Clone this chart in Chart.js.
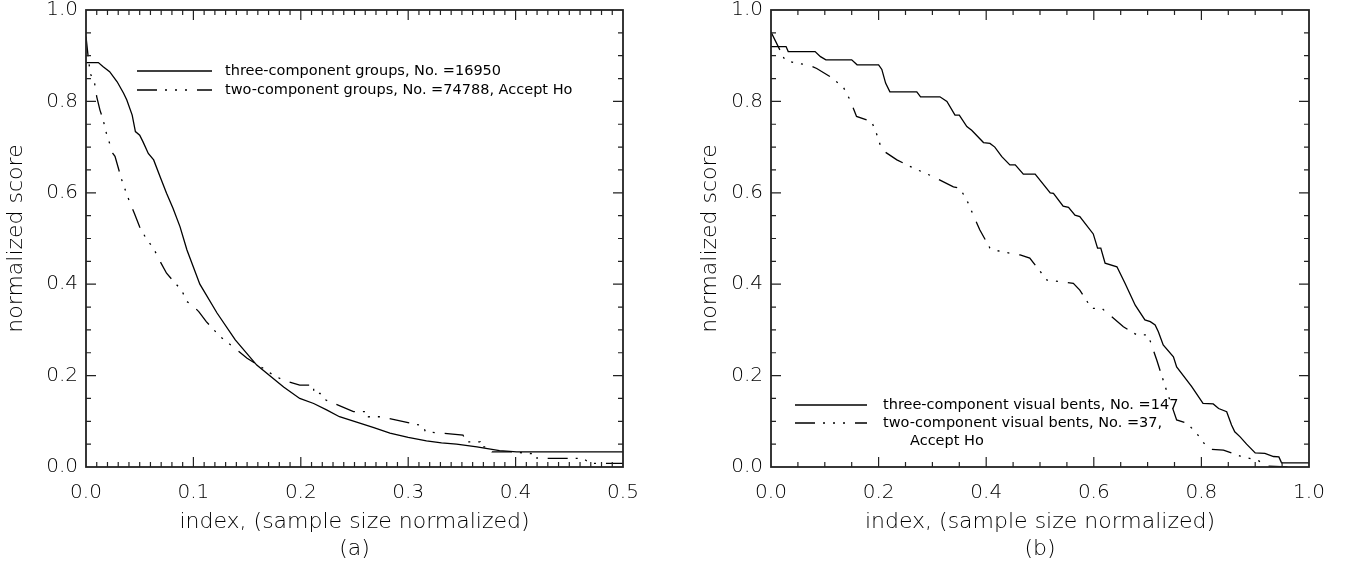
<!DOCTYPE html>
<html>
<head>
<meta charset="utf-8">
<script src="https://cdn.jsdelivr.net/npm/chart.js@4.4.1/dist/chart.umd.min.js"></script>
<style>
  body { margin: 0; background: #fff; }
  .panel { position: absolute; top: 0; width: 673px; height: 565px; }
  #panelA { left: 0; }
  #panelB { left: 673px; }
</style>
</head>
<body>
<div class="panel" id="panelA"><canvas id="chartA" width="673" height="565"></canvas></div>
<div class="panel" id="panelB"><canvas id="chartB" width="673" height="565"></canvas></div>
<script>
// panel (a): groups
const groupsThreeX = [0, 0.0115, 0.016, 0.022, 0.029, 0.035, 0.038, 0.043, 0.046, 0.050, 0.053, 0.058, 0.063, 0.069, 0.075, 0.081, 0.0875, 0.094, 0.106, 0.122, 0.139, 0.159, 0.184, 0.199, 0.212, 0.224, 0.236, 0.252, 0.268, 0.283, 0.300, 0.317, 0.331, 0.345, 0.364, 0.385, 0.401, 0.5];
const groupsThreeY = [0.885, 0.885, 0.876, 0.865, 0.843, 0.818, 0.803, 0.770, 0.734, 0.726, 0.712, 0.686, 0.672, 0.635, 0.599, 0.566, 0.526, 0.475, 0.40, 0.337, 0.278, 0.223, 0.175, 0.150, 0.139, 0.125, 0.11, 0.098, 0.086, 0.074, 0.065, 0.057, 0.053, 0.05, 0.044, 0.036, 0.033, 0.033];
const groupsTwoX = [0, 0.002, 0.004, 0.008, 0.010, 0.013, 0.016, 0.019, 0.022, 0.025, 0.027, 0.033, 0.039, 0.045, 0.050, 0.056, 0.063, 0.069, 0.075, 0.082, 0.089, 0.094, 0.099, 0.105, 0.112, 0.125, 0.137, 0.150, 0.165, 0.175, 0.184, 0.199, 0.212, 0.212, 0.218, 0.220, 0.249, 0.263, 0.263, 0.274, 0.314, 0.316, 0.351, 0.354, 0.367, 0.367, 0.376, 0.378, 0.398, 0.420, 0.420, 0.463, 0.469, 0.500];
const groupsTwoY = [0.942, 0.898, 0.861, 0.840, 0.810, 0.781, 0.759, 0.730, 0.708, 0.686, 0.680, 0.630, 0.590, 0.555, 0.525, 0.500, 0.478, 0.450, 0.424, 0.405, 0.387, 0.362, 0.354, 0.340, 0.318, 0.285, 0.263, 0.238, 0.216, 0.200, 0.190, 0.179, 0.179, 0.161, 0.161, 0.150, 0.121, 0.121, 0.110, 0.110, 0.090, 0.077, 0.070, 0.055, 0.055, 0.044, 0.044, 0.033, 0.033, 0.028, 0.019, 0.019, 0.008, 0.008];

// panel (b): visual bents
const bentsThreeX = [0, 0.028, 0.032, 0.082, 0.092, 0.102, 0.150, 0.160, 0.200, 0.206, 0.213, 0.221, 0.271, 0.278, 0.314, 0.327, 0.342, 0.350, 0.364, 0.373, 0.395, 0.407, 0.416, 0.429, 0.444, 0.454, 0.469, 0.491, 0.519, 0.525, 0.543, 0.553, 0.565, 0.574, 0.599, 0.607, 0.613, 0.621, 0.643, 0.658, 0.677, 0.695, 0.705, 0.714, 0.720, 0.729, 0.748, 0.754, 0.782, 0.803, 0.822, 0.832, 0.847, 0.856, 0.862, 0.872, 0.884, 0.900, 0.918, 0.934, 0.944, 0.949, 1.000];
const bentsThreeY = [0.920, 0.920, 0.909, 0.909, 0.898, 0.891, 0.891, 0.880, 0.880, 0.870, 0.840, 0.821, 0.821, 0.810, 0.810, 0.800, 0.770, 0.770, 0.745, 0.737, 0.710, 0.708, 0.700, 0.679, 0.661, 0.661, 0.641, 0.641, 0.600, 0.599, 0.571, 0.568, 0.551, 0.548, 0.510, 0.479, 0.479, 0.446, 0.438, 0.402, 0.354, 0.322, 0.318, 0.311, 0.296, 0.267, 0.241, 0.219, 0.176, 0.139, 0.138, 0.128, 0.121, 0.092, 0.077, 0.066, 0.050, 0.031, 0.030, 0.023, 0.022, 0.009, 0.009];
const bentsTwoX = [0, 0.026, 0.048, 0.069, 0.085, 0.110, 0.134, 0.147, 0.159, 0.187, 0.196, 0.206, 0.234, 0.265, 0.302, 0.339, 0.351, 0.364, 0.388, 0.407, 0.413, 0.444, 0.463, 0.481, 0.513, 0.562, 0.574, 0.596, 0.615, 0.655, 0.680, 0.701, 0.717, 0.735, 0.754, 0.773, 0.791, 0.813, 0.841, 0.872, 0.906, 0.921, 0.960];
const bentsTwoY = [0.952, 0.890, 0.883, 0.880, 0.872, 0.854, 0.832, 0.803, 0.767, 0.756, 0.730, 0.694, 0.672, 0.654, 0.635, 0.613, 0.610, 0.584, 0.519, 0.479, 0.475, 0.468, 0.464, 0.457, 0.409, 0.402, 0.387, 0.347, 0.347, 0.307, 0.289, 0.289, 0.234, 0.168, 0.103, 0.096, 0.074, 0.039, 0.037, 0.024, 0.014, 0.002, 0.000];

const groupsLabels = ['three-component groups, No. =16950', 'two-component groups, No. =74788, Accept Ho'];
const bentsLabels = ['three-component visual bents, No. =147', 'two-component visual bents, No. =37,', 'Accept Ho'];
const xTitle = 'index, (sample size normalized)';
const yTitle = 'normalized score';

const FONT = '"DejaVu Sans", sans-serif';
const DASH3DOT = [20, 8, 2, 8, 2, 8, 2, 10]; // idl linestyle 3

const toPoints = (xs, ys) => xs.map((x, i) => ({ x, y: ys[i] }));

// frame + inward ticks on all four sides, idl style
const frameTicks = {
  id: 'frameTicks',
  afterDatasetsDraw(chart, args, opts) {
    const { ctx, chartArea: a } = chart;
    const xs = chart.scales.x, ys = chart.scales.y;
    ctx.save();
    ctx.strokeStyle = '#222';
    ctx.lineWidth = 1.2;
    ctx.beginPath();
    const nx = Math.round((xs.max - xs.min) / opts.xMinor);
    const xEvery = Math.round(opts.xMajor / opts.xMinor);
    for (let i = 1; i < nx; i++) {
      const px = xs.getPixelForValue(xs.min + i * opts.xMinor);
      const len = i % xEvery === 0 ? 10 : 5;
      ctx.moveTo(px, a.bottom); ctx.lineTo(px, a.bottom - len);
      ctx.moveTo(px, a.top); ctx.lineTo(px, a.top + len);
    }
    const ny = Math.round((ys.max - ys.min) / opts.yMinor);
    const yEvery = Math.round(opts.yMajor / opts.yMinor);
    for (let i = 1; i < ny; i++) {
      const py = ys.getPixelForValue(ys.min + i * opts.yMinor);
      const len = i % yEvery === 0 ? 10 : 5;
      ctx.moveTo(a.left, py); ctx.lineTo(a.left + len, py);
      ctx.moveTo(a.right, py); ctx.lineTo(a.right - len, py);
    }
    ctx.stroke();
    ctx.lineWidth = 1.8;
    ctx.strokeRect(a.left, a.top, a.right - a.left, a.bottom - a.top);
    ctx.restore();
  }
};

// legend drawn inside the plot box
const boxLegend = {
  id: 'boxLegend',
  afterDraw(chart, args, opts) {
    const { ctx, chartArea: a } = chart;
    ctx.save();
    ctx.font = '14.5px ' + FONT;
    ctx.fillStyle = '#000';
    ctx.strokeStyle = '#000';
    ctx.lineWidth = 1.3;
    ctx.textBaseline = 'middle';
    opts.items.forEach(item => {
      const y = a.top + item.y;
      if (item.sample) {
        ctx.beginPath();
        ctx.setLineDash(item.dash || []);
        ctx.moveTo(a.left + opts.lineFrom, y);
        ctx.lineTo(a.left + opts.lineTo, y);
        ctx.stroke();
      }
      ctx.fillText(item.text, a.left + opts.textX + (item.indent || 0), y);
    });
    ctx.restore();
  }
};

function makePanel(id, cfg) {
  return new Chart(document.getElementById(id), {
    type: 'scatter',
    data: {
      datasets: [
        {
          label: cfg.labels[0],
          data: cfg.three,
          showLine: true,
          borderColor: '#000',
          borderWidth: 1.3,
          pointRadius: 0,
        },
        {
          label: cfg.labels[1],
          data: cfg.two,
          showLine: true,
          borderColor: '#000',
          borderWidth: 1.3,
          borderDash: DASH3DOT,
          pointRadius: 0,
        },
      ],
    },
    options: {
      responsive: false,
      animation: false,
      devicePixelRatio: 1,
      layout: { padding: cfg.padding },
      plugins: {
        legend: { display: false },
        tooltip: { enabled: false },
        frameTicks: cfg.ticks,
        boxLegend: cfg.legend,
      },
      scales: {
        x: {
          type: 'linear',
          min: 0,
          max: cfg.xMax,
          grid: { display: false, drawTicks: false },
          border: { display: false },
          ticks: {
            stepSize: cfg.ticks.xMajor,
            autoSkip: false,
            maxRotation: 0,
            padding: 14,
            color: '#000',
            font: { family: FONT, size: 20, weight: '200' },
            callback: v => v.toFixed(1),
          },
          title: {
            display: true,
            text: [xTitle, cfg.tag],
            color: '#000',
            font: { family: FONT, size: 22, weight: '200' },
            padding: { top: 0, bottom: 3 },
          },
          afterFit: s => {
            s.height = 98;
            s.paddingLeft = 0;
            s.paddingRight = 0;
          },
        },
        y: {
          min: 0,
          max: 1,
          grid: { display: false, drawTicks: false },
          border: { display: false },
          ticks: {
            stepSize: 0.2,
            padding: 8,
            color: '#000',
            font: { family: FONT, size: 20, weight: '200' },
            callback: v => v.toFixed(1),
          },
          title: {
            display: true,
            text: yTitle,
            color: '#000',
            font: { family: FONT, size: 22, weight: '200' },
            padding: { top: 3, bottom: 0 },
          },
          afterFit: s => {
            s.width = cfg.yWidth;
            // labels may stick out above the box, keep the box where it is
            s.paddingTop = 0;
            s.paddingBottom = 0;
          },
        },
      },
    },
    plugins: [frameTicks, boxLegend],
  });
}

makePanel('chartA', {
  three: toPoints(groupsThreeX, groupsThreeY),
  two: toPoints(groupsTwoX, groupsTwoY),
  labels: groupsLabels,
  tag: '(a)',
  xMax: 0.5,
  yWidth: 86,
  padding: { top: 10, right: 50, left: 0, bottom: 0 },
  ticks: { xMajor: 0.1, xMinor: 0.01, yMajor: 0.2, yMinor: 0.05 },
  legend: {
    lineFrom: 51, lineTo: 126, textX: 139,
    items: [
      { text: groupsLabels[0], y: 61, sample: true },
      { text: groupsLabels[1], y: 80, sample: true, dash: DASH3DOT },
    ],
  },
});

makePanel('chartB', {
  three: toPoints(bentsThreeX, bentsThreeY),
  two: toPoints(bentsTwoX, bentsTwoY),
  labels: bentsLabels,
  tag: '(b)',
  xMax: 1.0,
  yWidth: 77,
  padding: { top: 10, right: 37, left: 21, bottom: 0 },
  ticks: { xMajor: 0.2, xMinor: 0.05, yMajor: 0.2, yMinor: 0.05 },
  legend: {
    lineFrom: 24, lineTo: 96, textX: 112,
    items: [
      { text: bentsLabels[0], y: 395, sample: true },
      { text: bentsLabels[1], y: 413, sample: true, dash: DASH3DOT },
      { text: bentsLabels[2], y: 431, indent: 27 },
    ],
  },
});
</script>
</body>
</html>
